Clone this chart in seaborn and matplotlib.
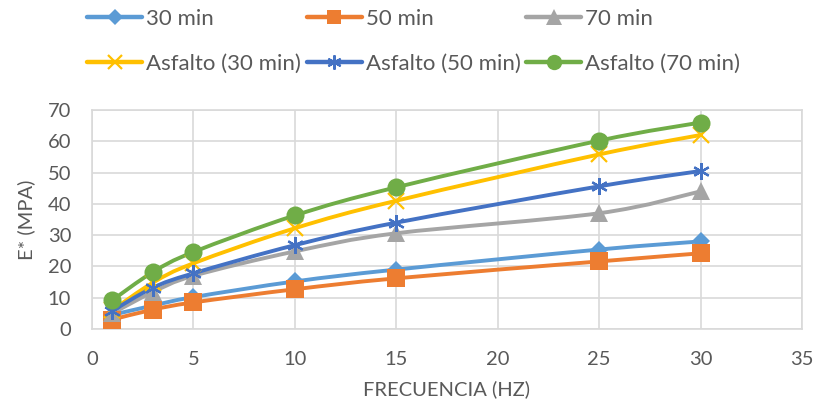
import numpy as np
import matplotlib
matplotlib.use("Agg")
import matplotlib.pyplot as plt
from matplotlib.path import Path
from matplotlib.patches import PathPatch
from matplotlib.lines import Line2D
import seaborn as sns

# Frequencies (Hz) and dynamic modulus E* (MPa) for each curing time
frecuencia = [1, 3, 5, 10, 15, 25, 30]
e_30 = [4.5, 7.5, 10.2, 15.2, 19.0, 25.4, 28.0]
e_50 = [3.0, 6.2, 8.5, 12.7, 16.2, 21.6, 24.2]
e_70 = [5.0, 11.8, 17.0, 24.8, 30.6, 37.0, 44.0]
asf_30 = [6.0, 14.8, 21.0, 32.2, 41.0, 55.8, 62.0]
asf_50 = [5.8, 13.2, 17.8, 26.8, 34.0, 45.6, 50.5]
asf_70 = [9.2, 18.2, 24.6, 36.3, 45.3, 60.2, 66.0]

series_labels = ["30 min", "50 min", "70 min",
                 "Asfalto (30 min)", "Asfalto (50 min)", "Asfalto (70 min)"]
series_values = [e_30, e_50, e_70, asf_30, asf_50, asf_70]
colors = ["#5B9BD5", "#ED7D31", "#A5A5A5", "#FFC000", "#4472C4", "#70AD47"]
markers = ["D", "s", "^", "x", (6, 2, 0), "o"]
msizes = [9.5, 12.5, 13, 12, 12, 13]
edge_w = [0, 0, 0, 1.6, 1.6, 0]

sns.set_theme(style="white")
plt.rcParams["font.family"] = ["Lato", "DejaVu Sans"]
text_color = "#595959"
grid_color = "#D9D9D9"
W, H = 820, 415

fig = plt.figure(figsize=(W / 100, H / 100), dpi=100)
ax = fig.add_axes([92 / W, 1 - 329 / H, 710 / W, 219 / H])


def smooth_path(xs, ys, t=1 / 6):
    """Cubic Bezier path through the points, with tangents from neighbours."""
    pts = np.column_stack([xs, ys]).astype(float)
    n = len(pts)
    verts = [pts[0]]
    codes = [Path.MOVETO]
    for i in range(n - 1):
        p0 = pts[max(i - 1, 0)]
        p1 = pts[i]
        p2 = pts[i + 1]
        p3 = pts[min(i + 2, n - 1)]
        c1 = p1 + (p2 - p0) * t
        c2 = p2 - (p3 - p1) * t
        verts += [c1, c2, p2]
        codes += [Path.CURVE4] * 3
    return Path(verts, codes)


for vals, col, mk, ms, mew in zip(series_values, colors, markers, msizes, edge_w):
    ax.add_patch(PathPatch(smooth_path(frecuencia, vals), facecolor="none",
                           edgecolor=col, lw=2.8, capstyle="round",
                           joinstyle="round", zorder=2))
    sns.lineplot(x=frecuencia, y=vals, ax=ax, color=col, marker=mk,
                 markersize=ms, markeredgecolor=col, markeredgewidth=mew,
                 linestyle="none", zorder=3)

ax.set_xlim(0, 35)
ax.set_ylim(0, 70)
ax.set_xticks(range(0, 36, 5))
ax.set_yticks(range(0, 71, 10))
ax.grid(True, color=grid_color, lw=1.2)
ax.set_axisbelow(True)
for s in ax.spines.values():
    s.set_color(grid_color)
    s.set_linewidth(1.2)
ax.tick_params(length=0, labelsize=14.5, colors=text_color)
ax.tick_params(axis="x", pad=16)
ax.tick_params(axis="y", pad=15)
ax.set_xlabel("FRECUENCIA (HZ)", fontsize=14.5, color=text_color, labelpad=9)
ax.set_ylabel("E* (MPA)", fontsize=14.5, color=text_color, labelpad=9)

# Legend: two rows of three entries, each a line sample with its marker
col_x = [87, 307, 526]
row_y = [17, 62]
for k, (lab, col, mk, ms, mew) in enumerate(zip(series_labels, colors, markers,
                                                 msizes, edge_w)):
    x0 = col_x[k % 3]
    y0 = 1 - row_y[k // 3] / H
    fig.add_artist(Line2D([x0 / W, (x0 + 55) / W], [y0, y0],
                          transform=fig.transFigure, color=col, lw=3.2,
                          solid_capstyle="round"))
    fig.add_artist(Line2D([(x0 + 27.5) / W], [y0], transform=fig.transFigure,
                          color=col, marker=mk, markersize=ms * 0.85,
                          markeredgecolor=col, markeredgewidth=mew,
                          linestyle="none"))
    fig.text((x0 + 59) / W, y0, lab, fontsize=16, color=text_color,
             va="center_baseline", ha="left")

fig.savefig("out.png", dpi=100)
